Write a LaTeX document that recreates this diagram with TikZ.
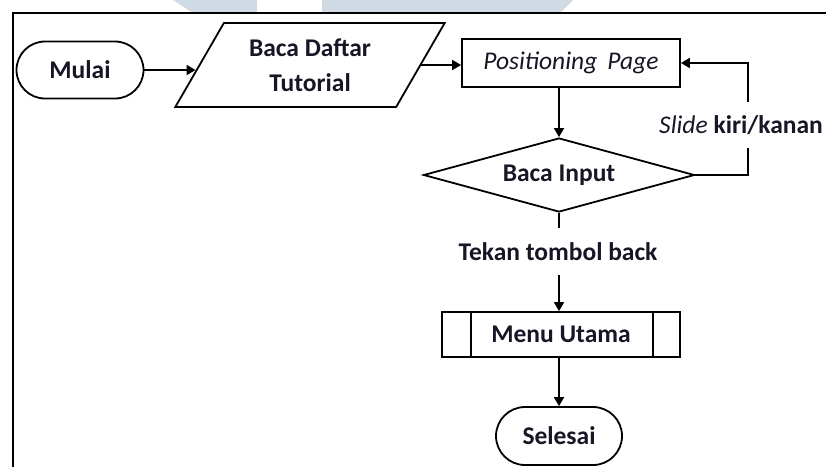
\documentclass[tikz,border=0pt]{standalone}
\usepackage{fontspec}
\setmainfont{Carlito}
\usetikzlibrary{shapes.geometric,shapes.misc,arrows.meta,calc}
\definecolor{ink}{RGB}{22,22,38}
\definecolor{faintblue}{RGB}{208,218,228}
\tikzset{
  base/.style={draw=black, line width=1.8pt, fill=white, text=ink,
    font=\fontsize{25.5}{35}\selectfont\bfseries, align=center, inner sep=0pt},
  terminal/.style={base, rounded rectangle},
  iobox/.style={base, trapezium, trapezium stretches=true,
    trapezium left angle=57, trapezium right angle=123},
  procbox/.style={base, rectangle},
  decision/.style={base, diamond, aspect=3.68},
  flowlabel/.style={text=ink, font=\fontsize{25.5}{30}\selectfont\bfseries,
    fill=white, inner sep=0pt},
  flow/.style={line width=1.8pt, -{Triangle[length=9pt,width=10pt]}},
  plain/.style={line width=1.8pt}
}
\begin{document}
\begin{tikzpicture}[x=1pt,y=-1pt]
\useasboundingbox (0,0) rectangle (826,467);
% faint marks along the top edge
\fill[faintblue] (173,0) -- (257,0) -- (257,13) -- (193,13) -- cycle;
\fill[faintblue] (322,0) -- (573,0) -- (560,13) -- (322,13) -- cycle;
% page frame
\draw[line width=1.6pt] (13,467) -- (13,13) -- (826,13);

% nodes
\node[terminal, minimum width=127pt, minimum height=57pt] (mulai) at (80,70) {Mulai};
\node[iobox, minimum width=270pt, minimum height=84pt] (baca) at (310,65) {Baca Daftar\\Tutorial};
\node[procbox, minimum width=218pt, minimum height=48pt] (pos) at (571,63)
  {\mdseries\itshape Positioning\ \,Page};
\node[decision, minimum width=271pt, minimum height=74pt] (dia) at (559,175) {Baca Input};
\node[flowlabel, fill=none, minimum height=47pt] (tekan) at (558,251.5) {Tekan tombol back};
\node[procbox, minimum width=238pt, minimum height=45pt] (menu) at (561,334.5) {Menu Utama};
\node[terminal, minimum width=126pt, minimum height=58pt] (sel) at (559,436) {Selesai};

% predefined-process side bars
\draw[plain] ([xshift=30pt]menu.north west) -- ([xshift=30pt]menu.south west);
\draw[plain] ([xshift=-28pt]menu.north east) -- ([xshift=-28pt]menu.south east);

% connectors
\coordinate (loop) at (748,175);
\draw[flow, shorten >=3pt] (mulai.east) -- (mulai.east -| baca.west);
\draw[flow] (baca.east) -- (baca.east -| pos.west);
\draw[flow] (dia.north |- pos.south) -- (dia.north);
\draw[flow] (dia.east) -- (loop) -- (loop |- pos.east) -- (pos.east);
\node[flowlabel, minimum height=46pt] (slide) at (741,125)
  {\mdseries\itshape Slide\/ \bfseries\upshape kiri/kanan};
\draw[plain] (dia.south) -- (dia.south |- tekan.north);
\draw[flow] (dia.south |- tekan.south) -- (dia.south |- menu.north);
\draw[flow] (dia.south |- menu.south) -- (dia.south |- sel.north);
\end{tikzpicture}
\end{document}
